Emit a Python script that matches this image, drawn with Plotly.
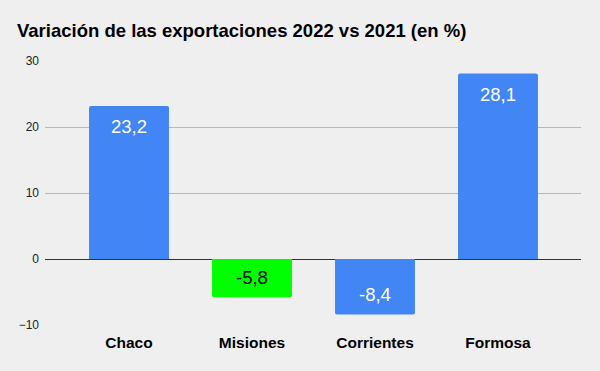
import plotly.graph_objects as go

categories = ["Chaco", "Misiones", "Corrientes", "Formosa"]
values = [23.2, -5.8, -8.4, 28.1]
bar_colors = ["#4285f4", "#00ff00", "#4285f4", "#4285f4"]
label_colors = ["#ffffff", "#000000", "#ffffff", "#ffffff"]
y_ticks = [-10, 0, 10, 20, 30]

FONT = "Arial, Liberation Sans, sans-serif"

fig = go.Figure(go.Bar(
    x=list(range(len(categories))),
    y=values,
    marker=dict(color=bar_colors, line=dict(width=0), cornerradius=2),
    width=0.65,
    hoverinfo="skip",
))

for i, v in enumerate(values):
    fig.add_annotation(
        x=i, y=v, xref="x", yref="y",
        text=f"{v:.1f}".replace(".", ","),
        showarrow=False,
        yanchor="top" if v >= 0 else "bottom",
        yshift=-8 if v >= 0 else 7,
        font=dict(family=FONT, size=18.5, color=label_colors[i]),
    )

fig.update_layout(
    width=600, height=371,
    paper_bgcolor="#efefef", plot_bgcolor="#efefef",
    margin=dict(l=45, r=19, t=61, b=46),
    separators=",.",
    showlegend=False,
    title=dict(
        text="<b>Variación de las exportaciones 2022 vs 2021 (en %)</b>",
        x=17/600, xanchor="left", y=1 - 31/371, yanchor="middle",
        font=dict(family=FONT, size=18.5, color="#000000"),
    ),
    xaxis=dict(
        tickmode="array",
        tickvals=list(range(len(categories))),
        ticktext=[f"<b>{c}</b>" for c in categories],
        range=[-0.683, 3.675],
        showgrid=False, zeroline=False, showline=False,
        ticks="", ticklabelstandoff=6,
        tickfont=dict(family=FONT, size=15.5, color="#000000"),
    ),
    yaxis=dict(
        range=[-10, 30],
        tickmode="array", tickvals=y_ticks,
        showgrid=True, gridcolor="#b7b7b7", gridwidth=1,
        zeroline=True, zerolinecolor="#333333", zerolinewidth=1,
        showline=False, ticks="",
        ticklabelstandoff=5,
        tickfont=dict(family=FONT, size=12, color="#222222"),
    ),
)

fig.write_html(
    "out.html",
    config={"displayModeBar": False},
    post_script="document.body.style.margin='0';document.body.style.overflow='hidden';",
)
